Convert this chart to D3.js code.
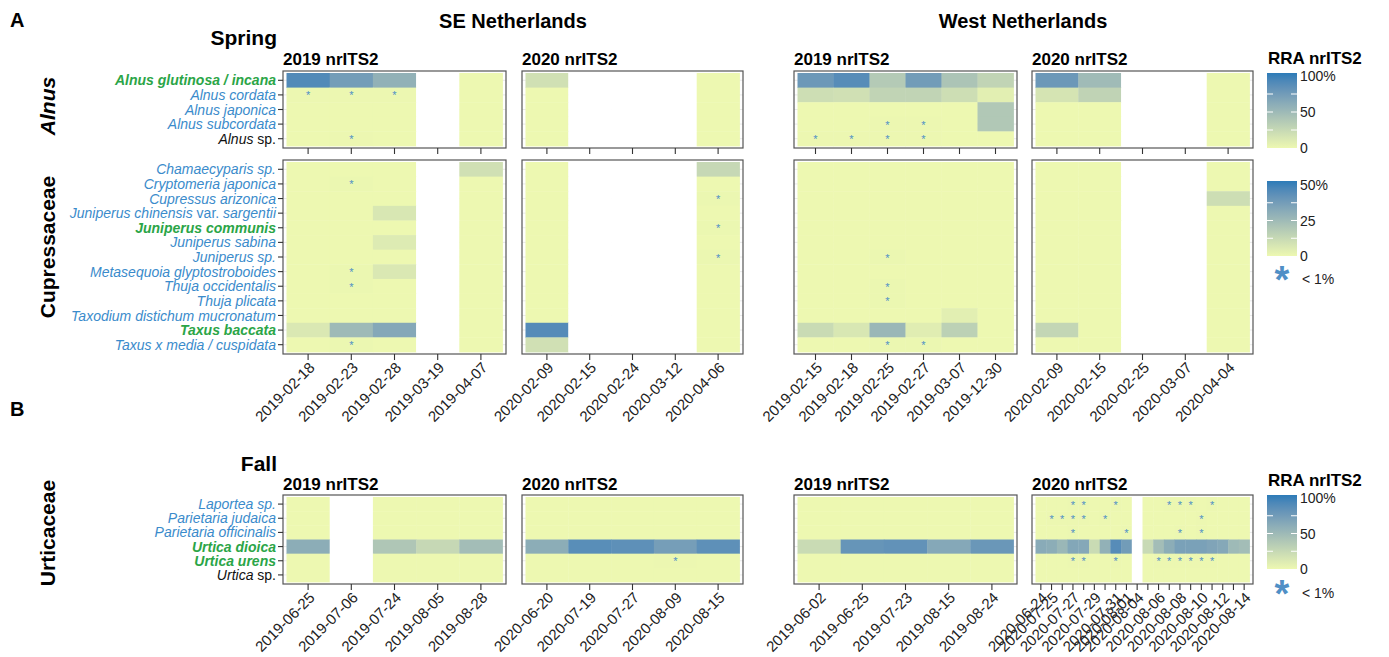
<!DOCTYPE html>
<html><head><meta charset="utf-8">
<script src="https://cdn.jsdelivr.net/npm/d3@7"></script>
<style>
body{margin:0;background:#fff}
svg{font-family:"Liberation Sans", Arial, Helvetica, sans-serif}
text{white-space:pre}
</style>
</head><body>
<svg id="chart" width="1389" height="657"></svg>
<script>
// ---------------- DATA ----------------
const T = 0.5; // trace amount (< 1 %), drawn as an asterisk

const alnusSpecies = ["Alnus glutinosa / incana","Alnus cordata","Alnus japonica","Alnus subcordata","Alnus sp."];
const alnusStyle   = ["key","other","other","other","genus"];
const cupSpecies = ["Chamaecyparis sp.","Cryptomeria japonica","Cupressus arizonica","Juniperus chinensis var. sargentii",
  "Juniperus communis","Juniperus sabina","Juniperus sp.","Metasequoia glyptostroboides","Thuja occidentalis",
  "Thuja plicata","Taxodium distichum mucronatum","Taxus baccata","Taxus x media / cuspidata"];
const cupStyle = ["other","other","other","other","key","other","other","other","other","other","other","key","other"];
const urtSpecies = ["Laportea sp.","Parietaria judaica","Parietaria officinalis","Urtica dioica","Urtica urens","Urtica sp."];
const urtStyle   = ["other","other","other","key","key","genus"];

const seSpring2019Dates = ["2019-02-18","2019-02-23","2019-02-28","2019-03-19","2019-04-07"];
const seSpring2020Dates = ["2020-02-09","2020-02-15","2020-02-24","2020-03-12","2020-04-06"];
const wSpring2019Dates  = ["2019-02-15","2019-02-18","2019-02-25","2019-02-27","2019-03-07","2019-12-30"];
const wSpring2020Dates  = ["2020-02-09","2020-02-15","2020-02-25","2020-03-07","2020-04-04"];
const seFall2019Dates   = ["2019-06-25","2019-07-06","2019-07-24","2019-08-05","2019-08-28"];
const seFall2020Dates   = ["2020-06-20","2020-07-19","2020-07-27","2020-08-09","2020-08-15"];
const wFall2019Dates    = ["2019-06-02","2019-06-25","2019-07-23","2019-08-15","2019-08-24"];
const wFall2020Dates    = ["2020-06-24","2020-07-25","","2020-07-27","","2020-07-29","","2020-07-31","2020-08-01",
  "2020-08-04","","2020-08-06","","2020-08-08","","2020-08-10","","2020-08-12","","2020-08-14"];

const seSpring2019Alnus = [
  [87,71,55,null,0],[T,T,T,null,0],[0,0,0,null,0],[0,0,0,null,0],[0,T,0,null,0]];
const seSpring2019Cup = [
  [0,0,0,null,9],[0,T,0,null,0],[0,0,0,null,0],[0,0,6.5,null,0],[0,0,0,null,0],[0,0,5,null,0],[0,0,0,null,0],
  [0,T,6,null,0],[0,T,0,null,0],[0,0,0,null,0],[0,0,0,null,0],[6,24,31,null,0],[0,T,0,null,0]];
const seSpring2020Alnus = [
  [18,null,null,null,0],[0,null,null,null,0],[0,null,null,null,0],[0,null,null,null,0],[0,null,null,null,0]];
const seSpring2020Cup = [
  [0,null,null,null,12],[0,null,null,null,0],[0,null,null,null,T],[0,null,null,null,0],[0,null,null,null,T],
  [0,null,null,null,0],[0,null,null,null,T],[0,null,null,null,0],[0,null,null,null,0],[0,null,null,null,0],
  [0,null,null,null,0],[43,null,null,null,0],[9,null,null,null,0]];
const wSpring2019Alnus = [
  [75,85,35,72,40,27],[20,18,27,27,20,7],[0,0,0,0,0,37],[0,0,T,T,0,37],[T,T,T,T,0,0]];
const wSpring2019Cup = [
  [0,0,0,0,0,0],[0,0,0,0,0,0],[0,0,0,0,0,0],[0,0,0,0,0,0],[0,0,0,0,0,0],[0,0,0,0,0,0],[0,0,T,0,0,0],
  [0,0,0,0,0,0],[0,0,T,0,0,0],[0,0,T,0,0,0],[0,0,0,0,3.5,0],[11,6.5,25,4,15,0],[0,0,T,T,0,0]];
const wSpring2020Alnus = [
  [75,47,null,null,0],[15,28,null,null,0],[0,0,null,null,0],[0,0,null,null,0],[0,0,null,null,0]];
const wSpring2020Cup = [
  [0,0,null,null,0],[0,0,null,null,0],[0,0,null,null,10],[0,0,null,null,0],[0,0,null,null,0],[0,0,null,null,0],
  [0,0,null,null,0],[0,0,null,null,0],[0,0,null,null,0],[0,0,null,null,0],[0,0,null,null,0],[13,0,null,null,0],
  [0,0,null,null,0]];
const seFall2019 = [
  [0,null,0,0,0],[0,null,0,0,0],[0,null,0,0,0],[58,null,38,24,45],[0,null,0,0,0],[0,null,0,0,0]];
const seFall2020 = [
  [0,0,0,0,0],[0,0,0,0,0],[0,0,0,0,0],[58,84,82,70,82],[0,0,0,T,0],[0,0,0,0,0]];
const wFall2019 = [
  [0,0,0,0,0],[0,0,0,0,0],[0,0,0,0,0],[22,78,80,62,76],[0,0,0,0,0],[0,0,0,0,0]];
const wFall2020 = [
  [0,0,0,T,T,0,0,T,0,null,0,0,T,T,T,0,T,0,0,0],
  [0,T,T,T,T,0,T,0,0,null,0,0,0,0,0,T,0,0,0,0],
  [0,0,0,T,0,0,0,0,T,null,0,0,0,T,0,T,0,0,0,0],
  [60,58,50,63,62,22,55,85,72,null,23,45,58,68,68,68,65,62,48,45],
  [0,0,0,T,T,0,0,T,0,null,0,T,T,T,T,T,T,0,0,0],
  [0,0,0,0,0,0,0,0,0,null,0,0,0,0,0,0,0,0,0,0]];

const legendBreaks100 = [0,50,100];
const legendLabels100 = ["0","50","100%"];
const legendBreaks50 = [0,25,50];
const legendLabels50 = ["0","25","50%"];

// ---------------- DRAWING ----------------
const svg = d3.select("#chart");
const BLUE_TXT = "#3a8bcb", GREEN_TXT = "#2ba547", STAR = "#4f8fc6";
const interp = d3.interpolateLab("#edf8b1", "#2c7bb8");
const makeColor = max => d3.scaleSequential(interp).domain([0, max]).clamp(true);

function txt(x, y, s, opts = {}) {
  const t = svg.append("text").attr("x", x).attr("y", y).text(s)
    .attr("font-size", opts.size || 14).attr("font-weight", opts.weight || "normal")
    .attr("font-style", opts.style || "normal").attr("fill", opts.fill || "#000")
    .attr("text-anchor", opts.anchor || "start");
  if (opts.transform) t.attr("transform", opts.transform);
  return t;
}

function centerStar(sel, cx, cy) {
  sel.each(function () {
    const b = this.getBBox();
    const curY = +this.getAttribute("y");
    this.setAttribute("y", curY + (cy - (b.y + b.height / 2)));
  });
}

function drawPanel(o) {
  const values = o.values, nR = values.length, nC = values[0].length;
  const padX = 3.5, padY = 2;
  const x = d3.scaleBand().domain(d3.range(nC)).range([o.x0 + padX, o.x1 - padX]);
  const y = d3.scaleBand().domain(d3.range(nR)).range([o.y0 + padY, o.y1 - padY]);
  const col = makeColor(o.max);
  const g = svg.append("g");
  g.selectAll("line.grid").data(d3.range(nR)).join("line")
    .attr("x1", o.x0).attr("x2", o.x1)
    .attr("y1", r => y(r) + y.bandwidth() / 2).attr("y2", r => y(r) + y.bandwidth() / 2)
    .attr("stroke", "#e4e4e4").attr("stroke-width", 0.8);
  const cells = values.flatMap((row, r) => row.map((v, c) => ({ r, c, v })));
  g.selectAll("rect.cell").data(cells).join("rect")
    .attr("x", d => x(d.c)).attr("y", d => y(d.r))
    .attr("width", x.bandwidth() + 0.4).attr("height", y.bandwidth() + 0.4)
    .attr("fill", d => d.v == null ? "#fff" : col(d.v));
  const stars = g.selectAll("text.star").data(cells.filter(d => d.v != null && d.v > 0 && d.v < 1)).join("text")
    .attr("x", d => x(d.c) + x.bandwidth() / 2).attr("y", d => y(d.r) + y.bandwidth() / 2)
    .attr("text-anchor", "middle").attr("font-size", 11).attr("fill", STAR).text("*");
  stars.each(function (d) { centerStar(d3.select(this), 0, y(d.r) + y.bandwidth() / 2 + 0.5); });
  g.append("rect").attr("x", o.x0).attr("y", o.y0).attr("width", o.x1 - o.x0).attr("height", o.y1 - o.y0)
    .attr("fill", "none").attr("stroke", "#555").attr("stroke-width", 1.2);
  // x axis
  const ax = d3.axisBottom(x).tickSize(6).tickFormat(i => o.labels[i]);
  const axg = g.append("g").attr("transform", `translate(0,${o.y1})`).call(ax)
    .attr("font-family", null).attr("font-size", 15);
  axg.select(".domain").remove();
  axg.selectAll(".tick line").attr("stroke", "#333").attr("stroke-width", 1.1);
  axg.selectAll(".tick text").attr("x", 0).attr("y", 0).attr("dy", "0.71em")
    .attr("transform", "translate(0,7) rotate(-45)").attr("text-anchor", "end").attr("fill", "#222");
  // y axis labels
  if (o.yLabels) {
    o.yLabels.forEach((name, i) => {
      const cy = y(i) + y.bandwidth() / 2;
      g.append("line").attr("x1", o.x0 - 5).attr("x2", o.x0).attr("y1", cy).attr("y2", cy)
        .attr("stroke", "#333").attr("stroke-width", 1.1);
      const st = o.yStyles[i];
      const t = g.append("text").attr("x", o.x0 - 7).attr("y", cy).attr("dy", "0.36em")
        .attr("text-anchor", "end").attr("font-size", 14)
        .attr("fill", st === "key" ? GREEN_TXT : st === "genus" ? "#111" : BLUE_TXT)
        .attr("font-weight", st === "key" ? "bold" : "normal");
      name.split(" ").forEach((w, k) => {
        const upright = w === "var." || (st === "genus" && w === "sp.");
        t.append("tspan").attr("font-style", upright ? "normal" : "italic").text((k > 0 ? " " : "") + w);
      });
    });
  }
}

function drawLegend(id, x, y0, y1, labY0, labY1, max, breaks, labels) {
  const grad = svg.append("defs").append("linearGradient").attr("id", id)
    .attr("x1", 0).attr("x2", 0).attr("y1", 1).attr("y2", 0);
  d3.range(0, 1.001, 0.1).forEach(t => grad.append("stop").attr("offset", t).attr("stop-color", interp(t)));
  svg.append("rect").attr("x", x).attr("y", y0).attr("width", 30).attr("height", y1 - y0).attr("fill", `url(#${id})`);
  const ys = d3.scaleLinear().domain([0, max]).range([labY0, labY1]);
  [0.25, 0.5, 0.75].forEach(f => {
    const yy = ys(max * f);
    svg.append("line").attr("x1", x).attr("x2", x + 6).attr("y1", yy).attr("y2", yy).attr("stroke", "#fff").attr("stroke-width", 1);
    svg.append("line").attr("x1", x + 24).attr("x2", x + 30).attr("y1", yy).attr("y2", yy).attr("stroke", "#fff").attr("stroke-width", 1);
  });
  breaks.forEach((b, i) => txt(x + 33, ys(b), labels[i], { size: 14, fill: "#222" }).attr("dy", "0.36em"));
}

function legendStar(cx, cy) {
  const s = svg.append("text").attr("x", cx).attr("y", cy).attr("text-anchor", "middle")
    .attr("font-size", 38).attr("font-weight", "bold").attr("fill", STAR).text("*");
  centerStar(s, cx, cy + 1);
  txt(1302, cy, "< 1%", { size: 14, fill: "#222" }).attr("dy", "0.36em");
}

// panel geometry
const PX = { se19: [283, 506], se20: [522, 743], w19: [794, 1017], w20: [1032, 1253] };
const ALN = [71, 148], CUP = [160, 354], FALL = [495, 584];

// headings
txt(10, 27, "A", { size: 20, weight: "bold" });
txt(10, 416, "B", { size: 20, weight: "bold" });
txt(513, 28, "SE Netherlands", { size: 20, weight: "bold", anchor: "middle" });
txt(1023, 28, "West Netherlands", { size: 20, weight: "bold", anchor: "middle" });
txt(277, 45, "Spring", { size: 21, weight: "bold", anchor: "end" });
txt(277, 471, "Fall", { size: 21, weight: "bold", anchor: "end" });
[["se19", "2019 nrITS2"], ["se20", "2020 nrITS2"], ["w19", "2019 nrITS2"], ["w20", "2020 nrITS2"]].forEach(([k, s]) => {
  txt(PX[k][0], 65, s, { size: 17, weight: "bold" });
  txt(PX[k][0], 490, s, { size: 17, weight: "bold" });
});
txt(0, 0, "Alnus", { size: 21, weight: "bold", style: "italic", anchor: "middle", transform: "translate(55,106) rotate(-90)" });
txt(0, 0, "Cupressaceae", { size: 21, weight: "bold", anchor: "middle", transform: "translate(55,247) rotate(-90)" });
txt(0, 0, "Urticaceae", { size: 21, weight: "bold", anchor: "middle", transform: "translate(55,533) rotate(-90)" });

// spring panels
drawPanel({ x0: PX.se19[0], x1: PX.se19[1], y0: ALN[0], y1: ALN[1], values: seSpring2019Alnus, max: 100, labels: seSpring2019Dates.map(() => ""), yLabels: alnusSpecies, yStyles: alnusStyle });
drawPanel({ x0: PX.se19[0], x1: PX.se19[1], y0: CUP[0], y1: CUP[1], values: seSpring2019Cup, max: 50, labels: seSpring2019Dates, yLabels: cupSpecies, yStyles: cupStyle });
drawPanel({ x0: PX.se20[0], x1: PX.se20[1], y0: ALN[0], y1: ALN[1], values: seSpring2020Alnus, max: 100, labels: seSpring2020Dates.map(() => "") });
drawPanel({ x0: PX.se20[0], x1: PX.se20[1], y0: CUP[0], y1: CUP[1], values: seSpring2020Cup, max: 50, labels: seSpring2020Dates });
drawPanel({ x0: PX.w19[0], x1: PX.w19[1], y0: ALN[0], y1: ALN[1], values: wSpring2019Alnus, max: 100, labels: wSpring2019Dates.map(() => "") });
drawPanel({ x0: PX.w19[0], x1: PX.w19[1], y0: CUP[0], y1: CUP[1], values: wSpring2019Cup, max: 50, labels: wSpring2019Dates });
drawPanel({ x0: PX.w20[0], x1: PX.w20[1], y0: ALN[0], y1: ALN[1], values: wSpring2020Alnus, max: 100, labels: wSpring2020Dates.map(() => "") });
drawPanel({ x0: PX.w20[0], x1: PX.w20[1], y0: CUP[0], y1: CUP[1], values: wSpring2020Cup, max: 50, labels: wSpring2020Dates });

// fall panels
drawPanel({ x0: PX.se19[0], x1: PX.se19[1], y0: FALL[0], y1: FALL[1], values: seFall2019, max: 100, labels: seFall2019Dates, yLabels: urtSpecies, yStyles: urtStyle });
drawPanel({ x0: PX.se20[0], x1: PX.se20[1], y0: FALL[0], y1: FALL[1], values: seFall2020, max: 100, labels: seFall2020Dates });
drawPanel({ x0: PX.w19[0], x1: PX.w19[1], y0: FALL[0], y1: FALL[1], values: wFall2019, max: 100, labels: wFall2019Dates });
drawPanel({ x0: PX.w20[0], x1: PX.w20[1], y0: FALL[0], y1: FALL[1], values: wFall2020, max: 100, labels: wFall2020Dates });

// legends
txt(1268, 64, "RRA nrITS2", { size: 17, weight: "bold" });
drawLegend("g1", 1267, 73, 148, 148, 76, 100, legendBreaks100, legendLabels100);
drawLegend("g2", 1267, 181, 256, 256, 185, 50, legendBreaks50, legendLabels50);
legendStar(1282, 279);
txt(1268, 486, "RRA nrITS2", { size: 17, weight: "bold" });
drawLegend("g3", 1267, 495, 569, 569, 498, 100, legendBreaks100, legendLabels100);
legendStar(1282, 593);
</script>
</body></html>
